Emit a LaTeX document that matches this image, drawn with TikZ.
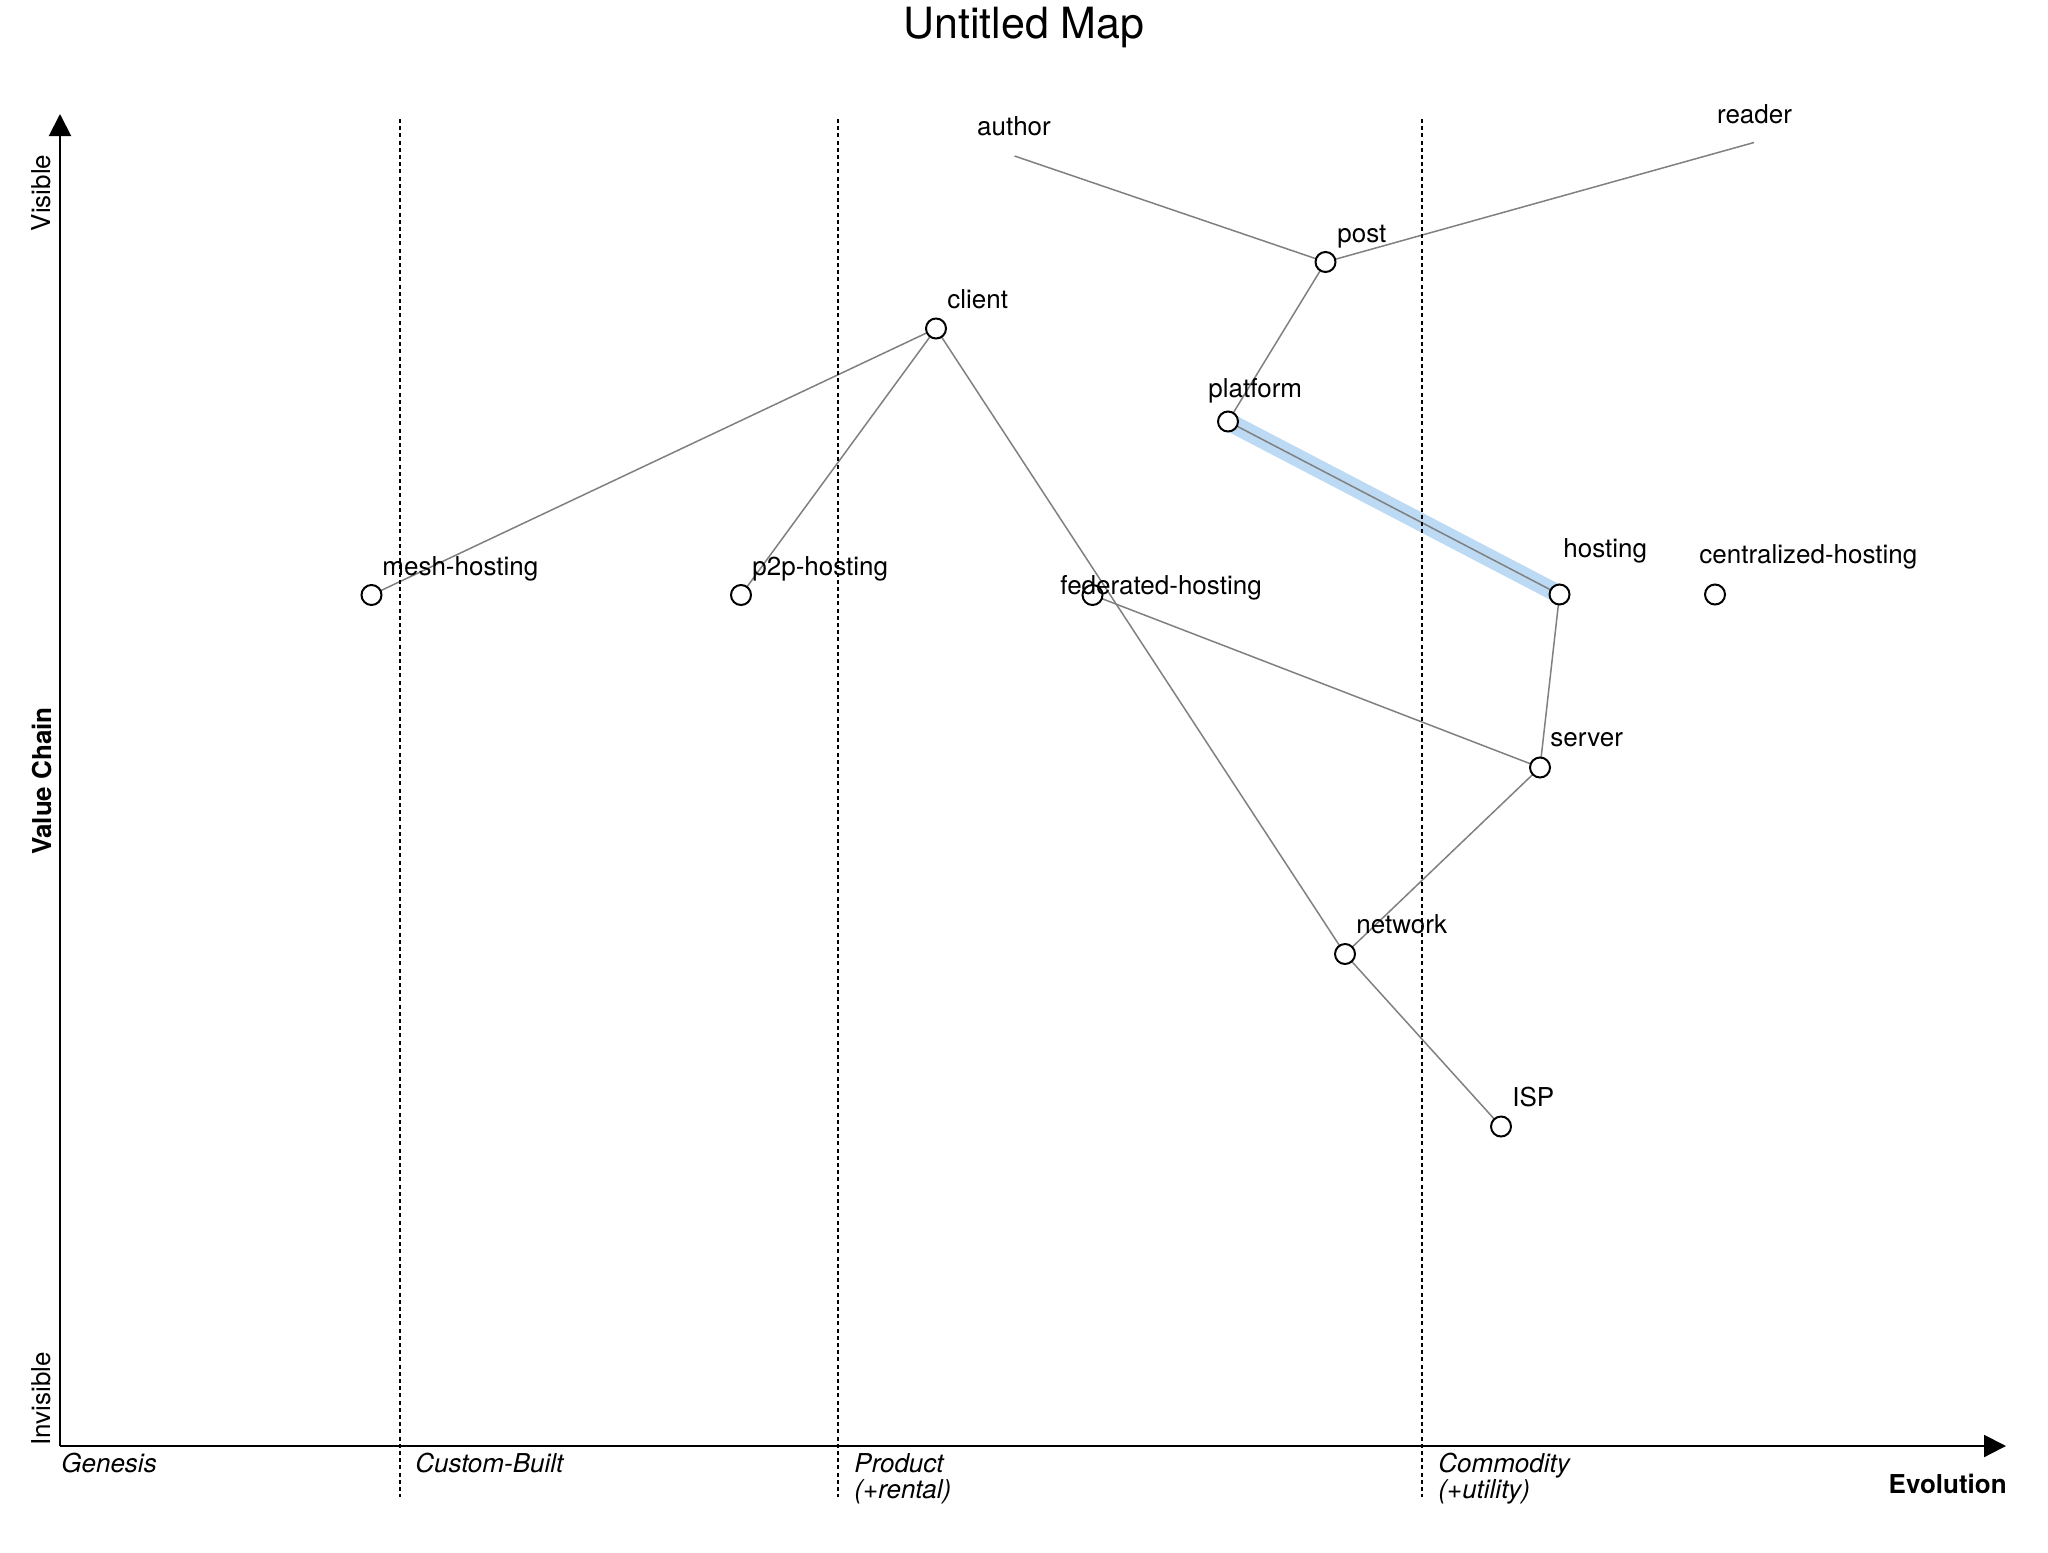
\documentclass[tikz,border=0pt]{standalone}
\usepackage{fontspec}
\setmainfont{TeX Gyre Heros}
\usetikzlibrary{arrows.meta,backgrounds}
\definecolor{edgegray}{HTML}{808080}
\definecolor{hilite}{HTML}{BDDAF4}
\tikzset{
  comp/.style={circle,draw=black,fill=white,line width=1pt,minimum size=10pt,inner sep=0pt},
  lbl/.style={anchor=base west,inner sep=0pt,font=\fontsize{13}{15.6}\selectfont},
  userlbl/.style={anchor=base,inner sep=0pt,font=\fontsize{13}{15.6}\selectfont},
  link/.style={draw=edgegray,line width=0.75pt},
  band/.style={draw=hilite,line width=9pt},
  axis/.style={draw=black,line width=1pt,-{Triangle[length=11pt,width=11pt]}},
  stage/.style={draw=black,line width=0.7pt,dash pattern=on 2pt off 1.6pt},
  stagelbl/.style={anchor=base west,inner sep=0pt,font=\fontsize{13}{15.6}\selectfont\itshape},
  sidelbl/.style={rotate=90,anchor=center,inner sep=0pt,font=\fontsize{13}{15.6}\selectfont},
}
\begin{document}
\begin{tikzpicture}[x=0.5pt,y=-0.5pt]
\useasboundingbox (0,0) rectangle (2048,1552);

% title
\node[anchor=base,inner sep=0pt,font=\fontsize{21.5}{25}\selectfont] (title) at (1024,39) {Untitled Map};

% axes
\coordinate (origin) at (60,1446);
\coordinate (ytip) at (60,114);
\coordinate (xtip) at (2006,1446);
\draw[axis] (origin) -- (ytip);
\draw[axis] (origin) -- (xtip);

% stage separators
\coordinate (s1t) at (400,119);  \coordinate (s1b) at (400,1497);
\coordinate (s2t) at (838,119);  \coordinate (s2b) at (838,1497);
\coordinate (s3t) at (1422,119); \coordinate (s3b) at (1422,1497);
\draw[stage] (s1t) -- (s1b);
\draw[stage] (s2t) -- (s2b);
\draw[stage] (s3t) -- (s3b);

% stage labels
\node[stagelbl] (genesis) at (61,1472) {Genesis};
\node[stagelbl] (custom) at (415,1472) {Custom-Built};
\node[stagelbl] (product) at (854,1472) {Product};
\node[stagelbl] (rental) at (854,1498) {(+rental)};
\node[stagelbl] (commodity) at (1438,1472) {Commodity};
\node[stagelbl] (utility) at (1438,1498) {(+utility)};
\node[anchor=base east,inner sep=0pt,font=\fontsize{13}{15.6}\selectfont\bfseries] (evolution) at (2007,1493) {Evolution};

% value chain labels
\node[sidelbl] (visible) at (41,193) {Visible};
\node[sidelbl] (invisible) at (41,1399) {Invisible};
\node[sidelbl,font=\fontsize{13}{15.6}\selectfont\bfseries] (valuechain) at (42,781) {Value Chain};

% components
\node[comp] (post) at (1325.5,262) {};
\node[comp] (client) at (936,328.5) {};
\node[comp] (platform) at (1228,421.5) {};
\node[comp] (hosting) at (1559.5,594.5) {};
\node[comp] (central) at (1715,594.5) {};
\node[comp] (mesh) at (371.5,595) {};
\node[comp] (p2p) at (741,595) {};
\node[comp] (federated) at (1092.5,595) {};
\node[comp] (server) at (1540,767.5) {};
\node[comp] (network) at (1345,954) {};
\node[comp] (isp) at (1501,1126.5) {};
\coordinate (author) at (1014.5,156);
\coordinate (reader) at (1754,142.5);

% labels
\node[userlbl] (authorlbl) at (1014,135) {author};
\node[userlbl] (readerlbl) at (1754.5,123) {reader};
\node[lbl] (postlbl) at (1337,242) {post};
\node[lbl] (clientlbl) at (947,308) {client};
\node[lbl] (platformlbl) at (1208,397) {platform};
\node[lbl] (hostinglbl) at (1563,557) {hosting};
\node[lbl] (centrallbl) at (1699,563) {centralized-hosting};
\node[lbl] (meshlbl) at (382,575) {mesh-hosting};
\node[lbl] (p2plbl) at (752,575) {p2p-hosting};
\node[lbl] (federatedlbl) at (1060,594) {federated-hosting};
\node[lbl] (serverlbl) at (1550,746) {server};
\node[lbl] (networklbl) at (1356,933) {network};
\node[lbl] (isplbl) at (1512,1106.5) {ISP};

% links
\begin{pgfonlayer}{background}
\draw[band] (platform.center) -- (hosting.center);
\draw[link] (author) -- (post.center);
\draw[link] (reader) -- (post.center);
\draw[link] (post.center) -- (platform.center);
\draw[link] (platform.center) -- (hosting.center);
\draw[link] (client.center) -- (mesh.center);
\draw[link] (client.center) -- (p2p.center);
\draw[link] (client.center) -- (network.center);
\draw[link] (hosting.center) -- (server.center);
\draw[link] (federated.center) -- (server.center);
\draw[link] (server.center) -- (network.center);
\draw[link] (network.center) -- (isp.center);
\end{pgfonlayer}
\end{tikzpicture}
\end{document}
